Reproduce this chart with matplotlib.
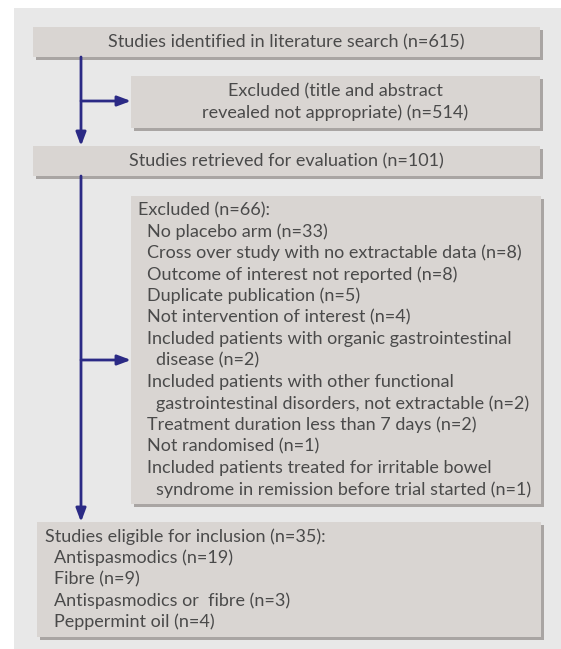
"""
Flow chart of study selection
"""

import matplotlib.pyplot as plt
from matplotlib.patches import Rectangle

# Texts of the boxes
identifies = "Studies identified in literature search (n=615)"
excl_titre = ["Excluded (title and abstract", "revealed not appropriate) (n=514)"]
retrieved = "Studies retrieved for evaluation (n=101)"
excl_titre_2 = "Excluded (n=66):"
excl_raisons = [
    "No placebo arm (n=33)",
    "Cross over study with no extractable data (n=8)",
    "Outcome of interest not reported (n=8)",
    "Duplicate publication (n=5)",
    "Not intervention of interest (n=4)",
    "Included patients with organic gastrointestinal",
    "disease (n=2)",
    "Included patients with other functional",
    "gastrointestinal disorders, not extractable (n=2)",
    "Treatment duration less than 7 days (n=2)",
    "Not randomised (n=1)",
    "Included patients treated for irritable bowel",
    "syndrome in remission before trial started (n=1)",
]
# 1 = item, 2 = suite de l'item
excl_niveaux = [1, 1, 1, 1, 1, 1, 2, 1, 2, 1, 1, 1, 2]
eligible_titre = "Studies eligible for inclusion (n=35):"
eligible_types = [
    "Antispasmodics (n=19)",
    "Fibre (n=9)",
    "Antispasmodics or  fibre (n=3)",
    "Peppermint oil (n=4)",
]

# Couleurs
fond = "#e8e8e8"
boite = "#d9d5d2"
ombre = "#a9a5a3"
texte = "#4a4a4a"
fleche = "#2b2a85"

plt.rcParams['font.family'] = ['Lato', 'DejaVu Sans']
fs = 13

fig = plt.figure(figsize=(5.61, 6.49), dpi=100)
ax = fig.add_axes([0, 0, 1, 1])
ax.set_xlim(0, 561)
ax.set_ylim(649, 0)
ax.axis("off")

ax.add_patch(Rectangle((14, 8), 547, 641, facecolor=fond, edgecolor="none"))


def boite_ombre(x0, y0, x1, y1):
    ax.add_patch(Rectangle((x0 + 3, y0 + 3), x1 - x0, y1 - y0, facecolor=ombre, edgecolor="none"))
    ax.add_patch(Rectangle((x0, y0), x1 - x0, y1 - y0, facecolor=boite, edgecolor="none"))


boite_ombre(33, 27, 540, 57)
boite_ombre(131, 76, 540, 128)
boite_ombre(33, 146, 540, 176)
boite_ombre(131, 196, 541, 504)
boite_ombre(37, 522, 541, 637)

# Fleches
style = dict(arrowstyle="-|>,head_length=0.8,head_width=0.3", color=fleche, lw=2, shrinkA=0, shrinkB=0)
ax.annotate("", xy=(81, 146), xytext=(81, 57), arrowprops=style)
ax.annotate("", xy=(131, 101), xytext=(81, 101), arrowprops=style)
ax.annotate("", xy=(81, 522), xytext=(81, 176), arrowprops=style)
ax.annotate("", xy=(131, 360), xytext=(81, 360), arrowprops=style)

# Textes
ax.text(286.5, 42, identifies, ha="center", va="center", fontsize=fs, color=texte)
for i, ligne in enumerate(excl_titre):
    ax.text(335.5, 91 + i * 21.3, ligne, ha="center", va="center", fontsize=fs, color=texte)
ax.text(286.5, 161, retrieved, ha="center", va="center", fontsize=fs, color=texte)

ax.text(138, 210, excl_titre_2, ha="left", va="center", fontsize=fs, color=texte)
for i, (ligne, niv) in enumerate(zip(excl_raisons, excl_niveaux)):
    ax.text(138 + 9 * niv, 210 + (i + 1) * 21.5, ligne, ha="left", va="center", fontsize=fs, color=texte)

ax.text(45, 537, eligible_titre, ha="left", va="center", fontsize=fs, color=texte)
for i, ligne in enumerate(eligible_types):
    ax.text(54, 537 + (i + 1) * 21.2, ligne, ha="left", va="center", fontsize=fs, color=texte)

fig.savefig("out.png", dpi=100)
